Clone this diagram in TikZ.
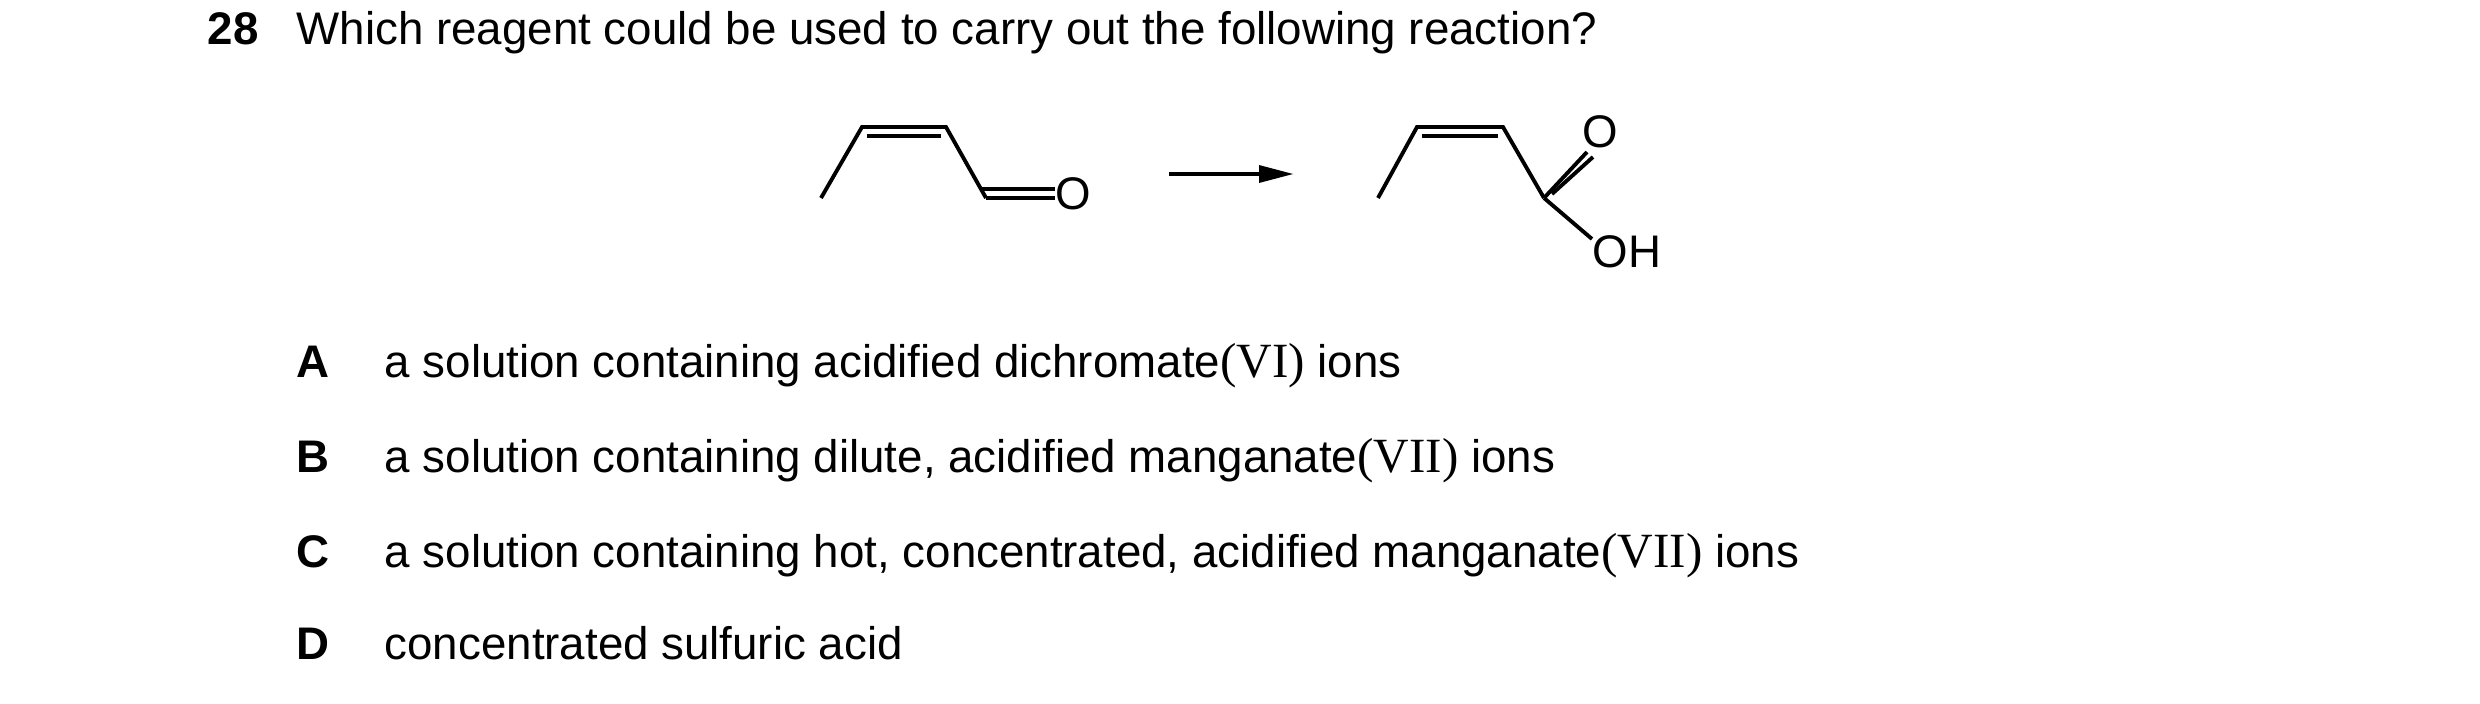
\documentclass[tikz,border=0pt]{standalone}
\usepackage{fontspec}
\setmainfont{Liberation Sans}
\newfontfamily\rmtimes{Liberation Serif}
\tikzset{
  bond/.style={line width=1.1pt, line cap=butt},
  txt/.style={anchor=base west, inner sep=0pt, font=\fontsize{13}{15}\selectfont},
  lbl/.style={anchor=base west, inner sep=0pt, font=\fontsize{13}{15}\selectfont\bfseries},
  atom/.style={inner sep=0pt, font=\fontsize{13}{15}\selectfont},
}
\newcommand{\ox}[1]{{\rmtimes\fontsize{14}{15}\selectfont #1}}
\begin{document}
\begin{tikzpicture}[x=0.1mm,y=-0.1mm]
  \useasboundingbox (0,0) rectangle (2480,704);
  % question
  \node[lbl] (num) at (207,45) {28};
  \node[txt] (q) at (296,45) {Which reagent could be used to carry out the following reaction?};
  % aldehyde
  \coordinate (a1) at (821,198);
  \coordinate (a2) at (862,127);
  \coordinate (a3) at (946,127);
  \coordinate (a4) at (986,198);
  \node[atom] (aO) at (1073,194) {O};
  \draw[bond] (a1) -- (a2) -- (a3) -- (a4);
  \draw[bond] (867,136) -- (941,136);
  \draw[bond] (a4) -- (aO.west |- a4);
  \draw[bond] (981,189) -- (aO.west |- 0,189);
  % arrow
  \coordinate (r1) at (1169,174);
  \coordinate (r2) at (1293,174);
  \draw[bond] (r1) -- (1262,174);
  \fill (1259,165) -- (r2) -- (1259,183) -- cycle;
  % acid
  \coordinate (b1) at (1378,198);
  \coordinate (b2) at (1417,127);
  \coordinate (b3) at (1503,127);
  \coordinate (b4) at (1544,198);
  \node[atom] (bO) at (1600,132) {O};
  \node[atom] (bOH) at (1627,252) {OH};
  \draw[bond] (b1) -- (b2) -- (b3) -- (b4);
  \draw[bond] (1422,136) -- (1498,136);
  \draw[bond] (b4) -- (1587,152);
  \draw[bond] (1552,194) -- (1593,157);
  \draw[bond] (b4) -- (1592,239);
  % options
  \foreach \l/\y/\t in {A/377/{a solution containing acidified dichromate\ox{(VI)} ions},
                        B/472/{a solution containing dilute, acidified manganate\ox{(VII)} ions},
                        C/567/{a solution containing hot, concentrated, acidified manganate\ox{(VII)} ions},
                        D/659/{concentrated sulfuric acid}}
  {
    \node[lbl] (opt\l) at (296,\y) {\l};
    \node[txt] (txt\l) at (384,\y) {\t};
  }
\end{tikzpicture}
\end{document}
